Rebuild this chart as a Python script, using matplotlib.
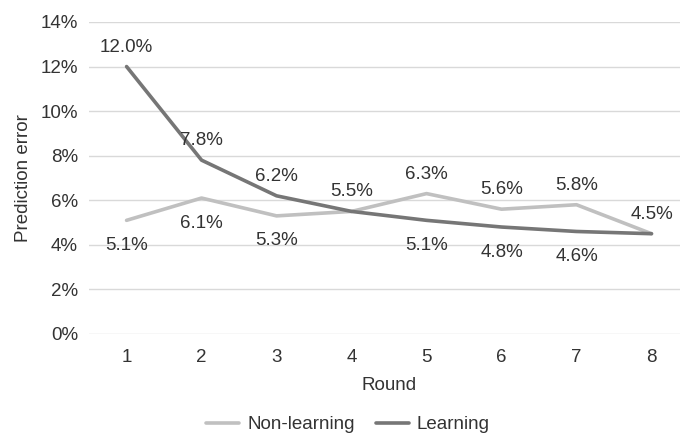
import matplotlib
matplotlib.use("Agg")
import matplotlib.pyplot as plt
from matplotlib.ticker import FuncFormatter

plt.rcParams['font.family'] = ['Liberation Sans', 'DejaVu Sans']

rounds = [1, 2, 3, 4, 5, 6, 7, 8]
non_learning = [5.1, 6.1, 5.3, 5.5, 6.3, 5.6, 5.8, 4.5]
learning = [12.0, 7.8, 6.2, 5.5, 5.1, 4.8, 4.6, 4.5]
# label placement: +1 above, -1 below, 0 none
nl_pos = [-1, -1, -1, 0, 1, 1, 1, 0]
l_pos = [1, 1, 1, 1, -1, -1, -1, 1]

text_c = '#333333'
c_nl = '#C0C0C0'
c_l = '#767676'
fs = 13.5

fig = plt.figure(figsize=(6.8, 4.37), dpi=100)
ax = fig.add_axes([0.131, 0.2357, 0.869, 0.714])

ax.plot(rounds, non_learning, color=c_nl, lw=2.6, label='Non-learning', solid_capstyle='round')
ax.plot(rounds, learning, color=c_l, lw=2.6, label='Learning', solid_capstyle='round')

for series, pos in ((non_learning, nl_pos), (learning, l_pos)):
    for x, v, p in zip(rounds, series, pos):
        if p == 0:
            continue
        off = 14 if p > 0 else -18
        ax.annotate(f'{v:.1f}%', (x, v), xytext=(0, off), textcoords='offset points',
                    ha='center', va='center', fontsize=fs, color=text_c)

ax.set_xlim(0.5, 8.38)
ax.set_ylim(0, 14)
ax.set_yticks(range(0, 15, 2))
ax.yaxis.set_major_formatter(FuncFormatter(lambda v, p: f'{v:.0f}%'))
ax.set_xticks(rounds)
ax.grid(axis='y', color='#D9D9D9', lw=1)
ax.set_axisbelow(True)
for s in ax.spines.values():
    s.set_visible(False)
ax.tick_params(length=0, labelsize=fs, colors=text_c, pad=11)
ax.tick_params(axis='y', pad=8)
ax.set_xlabel('Round', fontsize=fs, color=text_c)
ax.xaxis.set_label_coords(0.5076, -0.137)
ax.set_ylabel('Prediction error', fontsize=fs, color=text_c, labelpad=6)

fig.legend(loc='lower center', bbox_to_anchor=(0.512, -0.03), ncol=2, frameon=False,
           fontsize=fs, labelcolor=text_c, handlelength=1.75, columnspacing=1.1, handletextpad=0.45)

fig.savefig('out.png', dpi=100)
